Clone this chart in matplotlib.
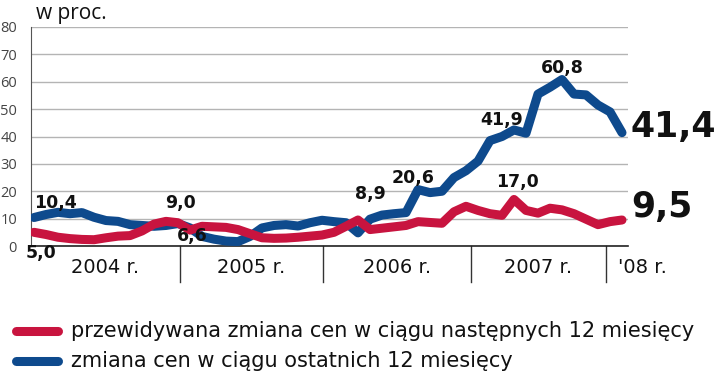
import matplotlib; matplotlib.use("Agg")
import matplotlib.pyplot as plt
import matplotlib.transforms as mtransforms
from matplotlib.lines import Line2D

# monthly readings, Jan 2004 .. Feb 2008
months = list(range(50))

last_12m = [10.4, 11.5, 12.3, 11.8, 12.2, 10.5, 9.3, 9.0, 7.8, 7.5,
            7.2, 7.5, 8.2, 6.6, 3.5, 2.5, 1.8, 1.6, 3.5, 6.6,
            7.5, 7.8, 7.3, 8.5, 9.4, 8.9, 8.5, 4.8, 9.8, 11.3,
            11.8, 12.2, 20.6, 19.5, 20.0, 25.0, 27.5, 31.0, 38.5, 40.0,
            42.4, 41.2, 55.5, 58.0, 60.8, 55.5, 55.2, 51.5, 49.0, 41.4]

next_12m = [5.0, 4.2, 3.2, 2.7, 2.4, 2.3, 3.0, 3.6, 3.8, 5.5,
            8.0, 9.0, 8.5, 5.8, 7.2, 7.0, 6.8, 6.0, 4.5, 3.0,
            2.8, 2.9, 3.2, 3.6, 4.0, 5.0, 7.2, 9.5, 6.0, 6.5,
            7.0, 7.5, 8.9, 8.6, 8.3, 12.5, 14.5, 13.0, 11.8, 11.2,
            17.0, 13.0, 12.0, 13.8, 13.2, 11.8, 9.8, 7.8, 8.9, 9.5]

year_labels = ["2004 r.", "2005 r.", "2006 r.", "2007 r.", "'08 r."]

# callouts as printed on the chart: (text, x, y)
callouts = [("10,4", 1.8, 15.7), ("5,0", 0.6, -2.6),
            ("9,0", 12.2, 15.7), ("6,6", 13.2, 3.7),
            ("8,9", 28.0, 19.0), ("20,6", 31.6, 24.8),
            ("41,9", 39.0, 46.0), ("60,8", 44.0, 65.0),
            ("17,0", 40.3, 23.4)]
end_labels = [("41,4", 43.5), ("9,5", 14.3)]

legend_labels = ["przewidywana zmiana cen w ciągu następnych 12 miesięcy",
                 "zmiana cen w ciągu ostatnich 12 miesięcy"]

BLUE = "#0e4a8d"
RED = "#c8143f"

plt.rcParams["font.family"] = ["DejaVu Sans"]

fig = plt.figure(figsize=(7.2, 3.75), dpi=100)
ax = fig.add_axes([31 / 720, 1 - 246 / 375, 597 / 720, 219 / 375])

ax.plot(months, last_12m, color=BLUE, lw=6.5, solid_capstyle="round",
        solid_joinstyle="round", zorder=3)
ax.plot(months, next_12m, color=RED, lw=6.5, solid_capstyle="round",
        solid_joinstyle="round", zorder=4)

ax.set_xlim(-0.25, 49.5)
ax.set_ylim(0, 80)
ax.set_yticks(range(0, 81, 10))
ax.set_xticks([])
ax.tick_params(axis="y", length=0, pad=10, labelsize=10.5, labelcolor="#444")
for t in ax.get_yticklabels():
    t.set_family(["Open Sans", "DejaVu Sans"])
ax.grid(axis="y", color="#b4b4b4", lw=1)
ax.set_axisbelow(True)
for s in ("top", "right"):
    ax.spines[s].set_visible(False)
ax.spines["left"].set_color("#555")
ax.spines["bottom"].set_color("#222")
ax.spines["bottom"].set_linewidth(1.2)

# year separators and labels below the axis
trans = mtransforms.blended_transform_factory(ax.transData, ax.transAxes)
seps = [12.17, 24.08, 36.4, 47.64]
for sx in seps:
    ax.plot([sx, sx], [0, -0.165], transform=trans, color="#333", lw=1, clip_on=False)
edges = [-0.25] + seps + [53.8]
for i, lab in enumerate(year_labels):
    ax.text((edges[i] + edges[i + 1]) / 2, -0.1, lab, transform=trans,
            ha="center", va="center", fontsize=14, color="#111")

for txt, x, y in callouts:
    ax.text(x, y, txt, ha="center", va="center", fontsize=12.5,
            fontweight="bold", color="#111", clip_on=False, zorder=5)
for txt, y in end_labels:
    ax.text(49.75, y, txt, ha="left", va="center", fontsize=25,
            fontweight="bold", color="#111", clip_on=False)

fig.text(36 / 720, 1 - 14 / 375, "w proc.", ha="left", va="center",
         fontsize=15, family=["Open Sans", "DejaVu Sans"], color="#111")

# legend
for yy, col, lab in [(331, RED, legend_labels[0]), (361, BLUE, legend_labels[1])]:
    fig.add_artist(Line2D([16 / 720, 58 / 720], [1 - yy / 375] * 2, color=col,
                          lw=6.5, solid_capstyle="round"))
    fig.text(71 / 720, 1 - yy / 375, lab, ha="left", va="center",
             fontsize=15, family=["DejaVu Sans"], color="#111")

fig.savefig("out.png", dpi=100)
